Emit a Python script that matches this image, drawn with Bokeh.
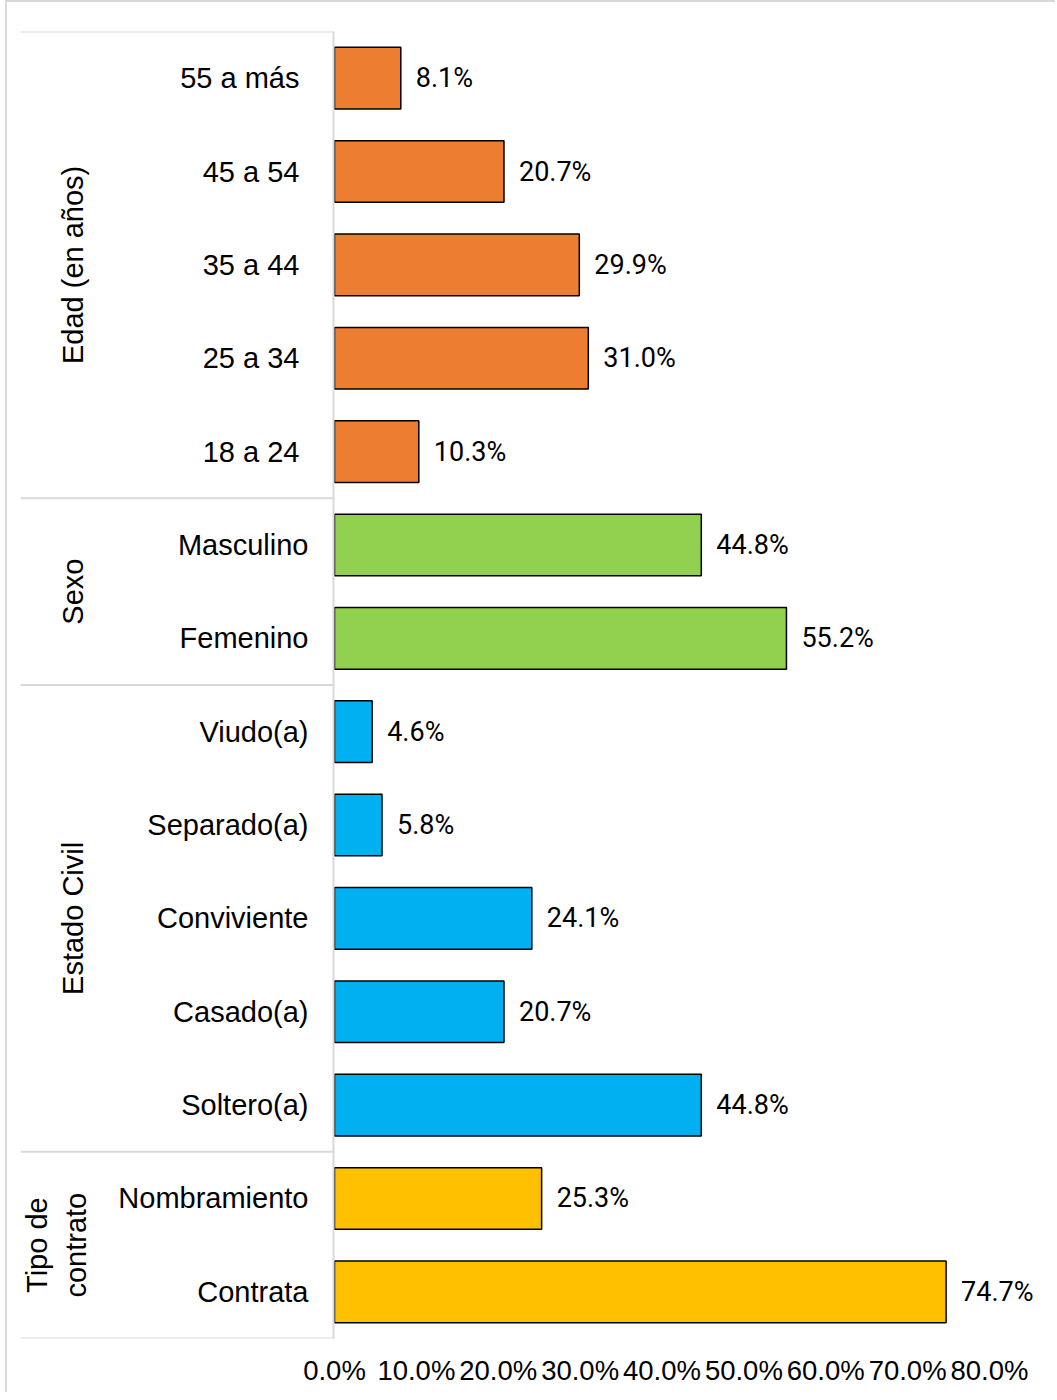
import math
from bokeh.plotting import figure
from bokeh.models import ColumnDataSource, FactorRange, Range1d, FixedTicker, Span
from bokeh.layouts import row
from bokeh.core.properties import value
from bokeh.embed import file_html
from bokeh.resources import INLINE

# ---------------- data ----------------
group_names = ["Edad (en años)", "Sexo", "Estado Civil", "Tipo de\ncontrato"]
group_colors = ["#ED7D31", "#92D050", "#00B0F0", "#FFC000"]

edad_cats = ["55 a más", "45 a 54", "35 a 44", "25 a 34", "18 a 24"]
edad_vals = [8.1, 20.7, 29.9, 31.0, 10.3]

sexo_cats = ["Masculino", "Femenino"]
sexo_vals = [44.8, 55.2]

civil_cats = ["Viudo(a)", "Separado(a)", "Conviviente", "Casado(a)", "Soltero(a)"]
civil_vals = [4.6, 5.8, 24.1, 20.7, 44.8]

contrato_cats = ["Nombramiento", "Contrata"]
contrato_vals = [25.3, 74.7]

tick_values = [0, 10, 20, 30, 40, 50, 60, 70, 80]
tick_labels = ["0.0%", "10.0%", "20.0%", "30.0%", "40.0%", "50.0%", "60.0%", "70.0%", "80.0%"]

# ---------------- layout / styles (pixels) ----------------
PX = 655.0 / 80.0                 # pixels per percentage point
PANEL_W = 314                     # width of the category label panel
FRAME_W = 1018
FRAME_H = 1307
TOP, LEFT, RIGHT = 29, 13, 17
H = 1390
BOTTOM = H - TOP - FRAME_H
label_right_px = [35, 26, 26, 26]   # distance of label right edge from bar baseline
group_label_px = [262, 262, 262, 278]  # distance of group label centre from bar baseline
CAT_FONT = "Liberation Sans"
VAL_FONT = "Roboto"
SEP_COLOR = "#d9d9d9"

groups = [
    (group_names[0], edad_cats, edad_vals, group_colors[0]),
    (group_names[1], sexo_cats, sexo_vals, group_colors[1]),
    (group_names[2], civil_cats, civil_vals, group_colors[2]),
    (group_names[3], contrato_cats, contrato_vals, group_colors[3]),
]

all_cats, all_vals, all_colors, all_lx = [], [], [], []
for gi, (gname, cats, vals, col) in enumerate(groups):
    all_cats += cats
    all_vals += vals
    all_colors += [col] * len(cats)
    all_lx += [-label_right_px[gi] / PX] * len(cats)

n = len(all_cats)
y_range = FactorRange(factors=all_cats[::-1], range_padding=0)
x_start = -PANEL_W / PX
x_end = x_start + FRAME_W / PX

p = figure(width=LEFT + FRAME_W + RIGHT, height=H, y_range=y_range,
           x_range=Range1d(x_start, x_end), y_axis_location=None,
           toolbar_location=None, output_backend="svg",
           min_border_left=LEFT, min_border_right=RIGHT,
           min_border_top=TOP, min_border_bottom=BOTTOM)
p.outline_line_color = None
p.xgrid.visible = False
p.ygrid.visible = False

# category labels
cat_src = ColumnDataSource(dict(y=all_cats, x=all_lx, text=all_cats))
p.text(x="x", y="y", text="text", source=cat_src, text_align="right",
       text_baseline="middle", text_font=value(CAT_FONT),
       text_font_size="29px", text_color="#000000")

# group labels & separators
start = 0
gl_x, gl_y, gl_t = [], [], []
bounds = [n]
for gi, (gname, cats, vals, col) in enumerate(groups):
    size = len(cats)
    gl_x.append(-group_label_px[gi] / PX)
    gl_y.append(n - (start + size / 2.0))
    gl_t.append(gname)
    start += size
    bounds.append(n - start)

p.text(x=gl_x, y=gl_y, text=gl_t, angle=math.pi / 2, text_align="center",
       text_baseline="middle", text_font=value(CAT_FONT), text_font_size="29px",
       text_color="#000000", text_line_height=1.2)

p.segment(x0=[x_start] * len(bounds), x1=[0] * len(bounds), y0=bounds, y1=bounds,
          line_color=SEP_COLOR, line_width=2)
p.add_layout(Span(location=-1.0 / PX, dimension="height", line_color=SEP_COLOR, line_width=2))

# bars
bar_src = ColumnDataSource(dict(y=all_cats, right=all_vals, color=all_colors,
                                text=[f"{v:.1f}%" for v in all_vals]))
p.hbar(y="y", left=0, right="right", height=0.66, fill_color="color",
       line_color="#000000", line_width=1.5, source=bar_src)
p.text(x="right", y="y", text="text", source=bar_src, x_offset=15,
       text_align="left", text_baseline="middle", text_font=value(VAL_FONT),
       text_font_size="27px", text_color="#000000")

xa = p.xaxis[0]
xa.ticker = FixedTicker(ticks=tick_values)
xa.major_label_overrides = {v: l for v, l in zip(tick_values, tick_labels)}
xa.axis_line_color = None
xa.major_tick_line_color = None
xa.minor_tick_line_color = None
xa.major_tick_out = 0
xa.major_tick_in = 0
xa.major_label_standoff = 16
xa.major_label_text_font = CAT_FONT
xa.major_label_text_font_size = "27.5px"
xa.major_label_text_color = "#000000"

layout = row(p, styles={"border-top": "2px solid #d9d9d9",
                        "border-left": "2px solid #d9d9d9",
                        "margin-left": "5px"})

open("out.html", "w").write(file_html(layout, INLINE))
